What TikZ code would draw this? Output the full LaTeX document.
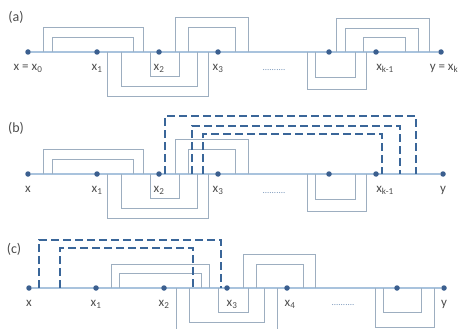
\documentclass[tikz,border=0pt]{standalone}
\usepackage{fontspec}
\setmainfont{Carlito}
\usetikzlibrary{positioning, backgrounds}
\definecolor{cAxis}{HTML}{A9C3DD}
\definecolor{cBr}{HTML}{9DAEC0}
\definecolor{cDot}{HTML}{3B5F8F}
\definecolor{cDash}{HTML}{3A6699}

\begin{document}
\begin{tikzpicture}[
  x=1pt, y=-1pt,
  font=\fontsize{13}{15}\selectfont,
  pt/.style={circle, fill=cDot, inner sep=0pt, minimum size=5.5pt},
  lbl/.style={below=9pt, inner sep=0pt, text=black!70},
  axis/.style={draw=cAxis, line width=1.2pt},
  br/.style={draw=cBr, line width=0.9pt},
  dsh/.style={draw=cDash, line width=2pt, dash pattern=on 8pt off 4pt},
  tag/.style={text=black!70, font=\fontsize{14}{16}\selectfont},
  gap/.style={text=cDash!70, font=\fontsize{9}{9}\selectfont},
]

\useasboundingbox (0,0) rectangle (458,329);

% ====================== (a) ============================================
\node[tag] (ta) at (16,17) {(a)};
\node[pt] (a0) at (28,52) {};
\node[pt] (a1) at (97,52) {};
\node[pt] (a2) at (159,52) {};
\node[pt] (a3) at (218,52) {};
\node[pt] (a4) at (329,52) {};
\node[pt] (a5) at (376,52) {};
\node[pt] (a6) at (441,52) {};
\node[lbl] (la0) [below=9pt of a0] {x = x\textsubscript{0}};
\node[lbl] (la1) [below=9pt of a1] {x\textsubscript{1}};
\node[lbl] (la2) [below=9pt of a2] {x\textsubscript{2}};
\node[lbl] (la3) [below=9pt of a3] {x\textsubscript{3}};
\node[gap] (ga) at (274,70) {..........};
\node[lbl] (la5) [below=9pt of a5, xshift=9pt] {x\textsubscript{k-1}};
\node[lbl] (la6) [below=9pt of a6, xshift=3pt] {y = x\textsubscript{k}};

\begin{scope}[on background layer]
  \draw[axis] (a0) -- (a6);
  \foreach \l/\r/\t in {43/143/27, 52/133/37, 175/248/17, 188/235/27,
      336/429/18, 345/418/28, 363/405/37, 107/208/96, 121/197/86,
      150/179/76, 307/366/89, 315/355/77}
    \draw[br] (\l,52) |- (\r,\t) -- (\r,52);
\end{scope}

% ====================== (b) ============================================
\node[tag] (tb) at (16,128) {(b)};
\node[pt] (b0) at (28,174) {};
\node[pt] (b1) at (97,174) {};
\node[pt] (b2) at (159,174) {};
\node[pt] (b3) at (218,174) {};
\node[pt] (b4) at (329,174) {};
\node[pt] (b5) at (376,174) {};
\node[pt] (b6) at (443,174) {};
\node[lbl] (lb0) [below=9pt of b0] {x};
\node[lbl] (lb1) [below=9pt of b1] {x\textsubscript{1}};
\node[lbl] (lb2) [below=9pt of b2] {x\textsubscript{2}};
\node[lbl] (lb3) [below=9pt of b3] {x\textsubscript{3}};
\node[gap] (gb) at (274,193) {..........};
\node[lbl] (lb5) [below=9pt of b5, xshift=9pt] {x\textsubscript{k-1}};
\node[lbl] (lb6) [below=9pt of b6] {y};

\begin{scope}[on background layer]
  \draw[axis] (b0) -- (b6);
  \foreach \l/\r/\t in {43/143/149, 52/133/159, 175/248/139, 188/235/149,
      107/208/218, 121/197/208, 150/179/198, 307/366/211, 315/355/199}
    \draw[br] (\l,174) |- (\r,\t) -- (\r,174);
  \foreach \l/\r/\t in {165/416/116, 192/400/126, 203/382/134}
    \draw[dsh] (\l,174) |- (\r,\t) -- (\r,174);
\end{scope}

% ====================== (c) ============================================
\node[tag] (tc) at (14,249) {(c)};
\node[pt] (c0) at (29,288) {};
\node[pt] (c1) at (96,288) {};
\node[pt] (c2) at (164,288) {};
\node[pt] (c3) at (227,288) {};
\node[pt] (c4) at (287,288) {};
\node[pt] (c5) at (397,288) {};
\node[pt] (c6) at (444,288) {};
\node[lbl] (lc0) [below=9pt of c0] {x};
\node[lbl] (lc1) [below=9pt of c1] {x\textsubscript{1}};
\node[lbl] (lc2) [below=9pt of c2] {x\textsubscript{2}};
\node[lbl] (lc3) [below=9pt of c3, xshift=5pt] {x\textsubscript{3}};
\node[lbl] (lc4) [below=9pt of c4, xshift=3pt] {x\textsubscript{4}};
\node[gap] (gc) at (343,305) {..........};
\node[lbl] (lc6) [below=9pt of c6] {y};

\begin{scope}[on background layer]
  \draw[axis] (c0) -- (c6);
  \foreach \l/\r/\t in {111/209/264, 119/201/273, 243/315/254, 256/303/264,
      176/277/334, 189/264/322, 218/248/312, 375/434/327, 383/421/312}
    \draw[br] (\l,288) |- (\r,\t) -- (\r,288);
  \foreach \l/\r/\t in {39/221/240, 60/193/248}
    \draw[dsh] (\l,288) |- (\r,\t) -- (\r,288);
\end{scope}

\end{tikzpicture}
\end{document}
